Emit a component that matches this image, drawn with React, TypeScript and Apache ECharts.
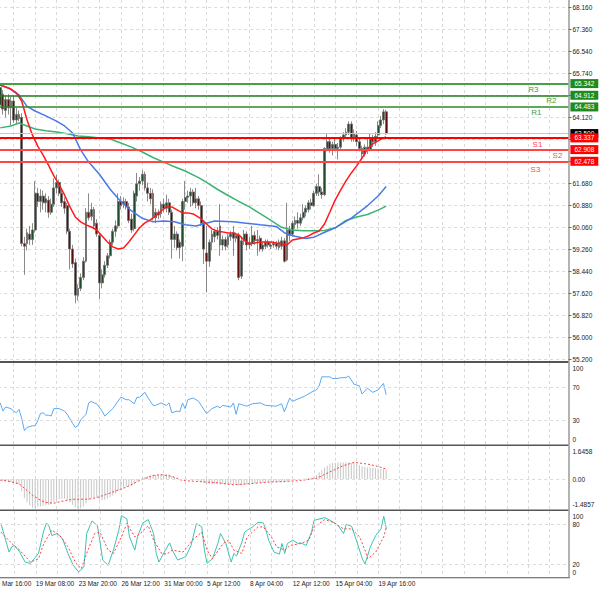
import React, { useEffect, useRef } from 'react';
import * as echarts from 'echarts';

// ---------- data ----------
const FIRST_BAR = 3;
const SLOT_COUNT = 216;

const timeTickIndex = [0, 16, 32, 48, 64, 80, 96, 112, 128, 144];
const timeTickText = ['16 Mar 16:00', '19 Mar 08:00', '23 Mar 20:00', '26 Mar 12:00', '31 Mar 00:00', '5 Apr 12:00', '8 Apr 04:00', '12 Apr 12:00', '15 Apr 04:00', '19 Apr 16:00'];

const PRICE_LOW = 55.2;
const PRICE_HIGH = 68.16;
const priceTickText = ['55.200', '56.000', '56.820', '57.620', '58.440', '59.260', '60.060', '60.880', '61.680', '', '', '64.120', '', '65.740', '66.540', '67.360', '68.160'];

// [open, close, low, high] from bar FIRST_BAR
const ohlc: number[][] = [
  [64.55, 65.2, 64.4, 65.35], [64.95, 64.4, 64.2, 65.1], [64.35, 64.75, 64.1, 64.9], [64.75, 64.45, 64.2, 64.95], [64.45, 64.7, 63.8, 64.85],
  [64.7, 64.0, 63.9, 64.9], [64.0, 64.2, 63.85, 64.45], [64.2, 64.05, 63.95, 64.35], [64.1, 59.45, 59.35, 64.25], [59.45, 59.35, 58.3, 59.7],
  [59.45, 59.85, 59.2, 60.0], [59.8, 59.6, 59.4, 60.1], [59.6, 59.95, 59.4, 60.2], [59.95, 61.3, 59.85, 61.75], [61.3, 61.0, 60.8, 61.5],
  [61.0, 61.2, 60.6, 61.45], [61.2, 60.95, 60.7, 61.4], [60.95, 61.1, 60.6, 61.3], [61.05, 60.6, 60.4, 61.2], [60.6, 60.9, 60.5, 61.1],
  [60.9, 61.5, 60.8, 61.85], [61.5, 61.7, 61.3, 61.98], [61.7, 61.3, 61.2, 61.8], [61.3, 60.95, 60.8, 61.45], [61.0, 60.75, 60.55, 61.15],
  [60.85, 59.9, 59.8, 60.95], [59.9, 59.25, 58.5, 60.0], [59.25, 58.7, 58.55, 59.4], [58.75, 57.55, 57.25, 58.9], [57.55, 57.8, 57.35, 57.95],
  [57.8, 58.2, 57.7, 58.35], [58.2, 58.8, 58.1, 58.95], [58.8, 60.6, 58.75, 60.75], [60.6, 60.4, 60.3, 61.3], [60.45, 60.7, 60.3, 60.95],
  [60.7, 60.1, 60.0, 60.8], [60.2, 59.8, 59.7, 60.35], [59.75, 58.0, 57.4, 59.85], [58.0, 58.3, 57.8, 58.5], [58.3, 58.65, 58.2, 58.8],
  [58.65, 59.0, 58.55, 59.1], [59.0, 59.5, 58.9, 59.6], [59.5, 59.9, 59.4, 60.0], [59.9, 60.1, 59.7, 60.3], [60.1, 61.0, 60.0, 61.3],
  [61.0, 60.85, 60.7, 61.2], [60.9, 61.0, 60.75, 61.15], [61.0, 60.8, 60.7, 61.1], [60.8, 60.3, 60.2, 60.95], [60.35, 59.95, 59.85, 60.55],
  [60.0, 61.3, 59.9, 61.4], [61.2, 61.65, 61.0, 62.05], [61.65, 61.75, 61.4, 61.9], [61.75, 62.0, 61.6, 62.15], [62.0, 61.5, 61.4, 62.1],
  [61.5, 61.3, 61.0, 61.7], [61.3, 61.1, 60.9, 61.5], [61.3, 60.45, 60.3, 61.45], [60.4, 60.6, 60.2, 60.75], [60.6, 60.5, 60.35, 60.7],
  [60.55, 60.9, 60.4, 61.0], [60.9, 60.75, 60.6, 61.1], [60.75, 60.95, 60.6, 61.25], [60.95, 60.6, 60.5, 61.1], [60.6, 59.6, 58.9, 60.7],
  [59.6, 59.8, 59.3, 60.1], [59.8, 59.3, 59.2, 59.9], [59.5, 59.3, 58.9, 59.6], [59.35, 61.0, 58.8, 61.1], [61.0, 61.15, 60.7, 61.75],
  [61.15, 61.2, 60.95, 61.4], [61.2, 61.35, 60.8, 61.5], [61.35, 60.95, 60.85, 61.45], [60.95, 61.1, 60.75, 61.5], [61.1, 60.85, 60.7, 61.2],
  [60.85, 60.2, 60.1, 61.0], [60.2, 59.25, 58.7, 60.3], [59.1, 58.8, 57.65, 60.1], [58.8, 59.5, 58.6, 59.6], [59.5, 59.8, 59.2, 59.95],
  [59.7, 59.9, 59.5, 60.0], [59.9, 59.75, 59.6, 60.05], [60.1, 59.4, 59.0, 60.9], [59.4, 59.6, 59.2, 59.75], [59.6, 59.35, 59.2, 59.7],
  [59.4, 59.7, 59.3, 59.8], [59.7, 59.8, 59.55, 59.9], [59.85, 59.65, 59.0, 60.1], [59.65, 59.75, 59.5, 59.85], [59.75, 58.2, 58.1, 59.85],
  [58.25, 59.55, 58.15, 59.7], [59.55, 59.8, 59.4, 59.95], [59.8, 59.4, 59.2, 59.9], [59.4, 59.5, 59.25, 59.7], [59.45, 59.75, 59.35, 60.1],
  [59.75, 59.55, 59.4, 59.9], [59.55, 59.6, 59.0, 59.95], [59.65, 59.25, 59.15, 59.75], [59.25, 59.4, 59.15, 59.5], [59.35, 59.5, 59.25, 59.6],
  [59.5, 59.4, 59.3, 59.6], [59.35, 59.4, 59.25, 59.5], [59.4, 59.45, 59.3, 59.55], [59.45, 59.35, 59.25, 59.55], [59.5, 59.3, 59.2, 59.6],
  [59.35, 59.55, 59.25, 59.7], [59.55, 58.8, 58.75, 59.65], [58.85, 59.95, 58.8, 60.95], [59.95, 59.75, 59.55, 60.1], [59.8, 60.2, 59.7, 60.3],
  [60.15, 60.3, 60.0, 60.45], [60.3, 60.2, 60.0, 60.6], [60.2, 60.4, 60.1, 60.55], [60.4, 60.6, 60.3, 60.9], [60.6, 60.75, 60.45, 60.85],
  [60.7, 60.95, 60.6, 61.05], [60.95, 60.85, 60.7, 61.1], [60.85, 61.3, 60.8, 61.4], [61.3, 61.55, 61.2, 61.65], [61.55, 61.35, 61.2, 62.0],
  [61.35, 61.25, 61.1, 61.5], [61.25, 62.95, 61.2, 63.0], [62.95, 63.2, 62.85, 63.5], [63.2, 62.95, 62.8, 63.3], [62.95, 63.1, 62.7, 63.2],
  [63.1, 62.95, 62.85, 63.35], [62.95, 63.0, 62.55, 63.15], [63.0, 63.3, 62.9, 63.4], [63.3, 63.45, 63.2, 63.55], [63.45, 63.55, 63.35, 63.7],
  [63.55, 63.85, 63.45, 63.95], [63.85, 63.3, 63.2, 63.95], [63.35, 63.5, 63.2, 63.65], [63.45, 63.2, 63.05, 63.6], [63.2, 62.95, 62.85, 63.3],
  [62.95, 62.75, 62.6, 63.05], [62.75, 63.0, 62.65, 63.1], [63.0, 62.9, 62.75, 63.3], [62.9, 63.3, 62.85, 63.5], [63.3, 63.2, 63.0, 63.45],
  [63.2, 63.4, 63.05, 63.55], [63.45, 63.8, 63.35, 63.95], [63.8, 64.0, 63.7, 64.15], [64.0, 64.3, 63.85, 64.4], [64.3, 63.5, 63.45, 64.38],
];

// moving averages: [bar index, price]
const maFast: number[][] = [
  [3, 65.29], [7, 65.14], [9, 65.0], [11, 64.7], [13, 64.0], [15, 63.45], [17, 63.04], [19, 62.71], [21, 62.34], [23, 61.94],
  [25, 61.61], [27, 61.24], [29, 60.8], [31, 60.43], [33, 60.25], [35, 60.14], [37, 60.06], [39, 59.95], [41, 59.73], [43, 59.51],
  [45, 59.33], [47, 59.25], [49, 59.29], [51, 59.51], [53, 59.77], [55, 60.03], [57, 60.21], [59, 60.32], [61, 60.47], [63, 60.65],
  [65, 60.8], [67, 60.8], [69, 60.69], [71, 60.58], [73, 60.58], [75, 60.54], [78, 60.36], [80, 60.17], [82, 59.99], [84, 59.91],
  [86, 59.88], [88, 59.84], [90, 59.84], [92, 59.77], [94, 59.58], [96, 59.44], [98, 59.47], [100, 59.51], [102, 59.51], [104, 59.51],
  [106, 59.47], [108, 59.44], [110, 59.4], [112, 59.58], [114, 59.62], [116, 59.66], [118, 59.73], [120, 59.84], [122, 59.91], [124, 60.17],
  [126, 60.61], [128, 61.06], [130, 61.42], [132, 61.76], [134, 62.05], [136, 62.31], [138, 62.6], [140, 62.93], [142, 63.12], [144, 63.23],
  [146, 63.34], [147, 63.38],
];
const maMid: number[][] = [
  [3, 65.29], [6, 65.18], [10, 64.92], [13, 64.5], [16, 64.33], [20, 64.15], [24, 63.96], [27, 63.78], [30, 63.52], [33, 62.9],
  [36, 62.45], [40, 62.0], [44, 61.45], [48, 61.0], [52, 60.65], [56, 60.38], [60, 60.25], [64, 60.28], [68, 60.25], [72, 60.14],
  [76, 60.1], [83, 60.28], [90, 60.25], [94, 60.21], [100, 60.14], [106, 60.08], [109, 59.85], [113, 59.72], [117, 59.64], [120, 59.68],
  [123, 59.82], [128, 60.03], [134, 60.39], [140, 60.84], [144, 61.2], [147, 61.55],
];
const maSlow: number[][] = [
  [3, 63.71], [7, 63.78], [10, 63.89], [13, 63.78], [16, 63.67], [20, 63.6], [24, 63.56], [28, 63.49], [32, 63.41], [36, 63.38],
  [40, 63.34], [44, 63.3], [48, 63.15], [52, 63.0], [56, 62.82], [60, 62.62], [64, 62.45], [68, 62.28], [72, 62.12], [77, 61.88],
  [80, 61.7], [84, 61.45], [88, 61.22], [92, 61.0], [96, 60.8], [100, 60.55], [104, 60.3], [108, 60.05], [112, 59.95], [116, 59.92],
  [120, 59.92], [124, 59.93], [128, 60.03], [132, 60.3], [136, 60.43], [140, 60.52], [144, 60.68], [147, 60.83],
];

const levelNames = ['R3', 'R2', 'R1', 'S1', 'S2', 'S3'];
const levelValues = [65.342, 64.912, 64.483, 63.337, 62.908, 62.478];
const lastPrice = 63.5;

const rsi: number[][] = [
  [3, 51], [4, 41], [5, 46], [7, 44], [8, 41], [9, 39], [10, 43], [11, 32], [12, 17], [13, 21], [15, 23], [16, 23], [17, 29], [18, 38],
  [19, 39], [20, 36], [21, 36], [22, 35], [23, 44], [25, 44], [27, 41], [28, 37], [30, 26], [31, 21], [32, 23], [33, 30], [35, 37],
  [36, 51], [37, 53], [38, 51], [39, 50], [41, 41], [42, 35], [45, 44], [48, 58], [50, 55], [51, 55], [53, 50], [54, 58], [55, 58],
  [57, 64], [58, 58], [60, 48], [61, 48], [63, 51], [65, 48], [66, 51], [67, 39], [69, 41], [70, 40], [71, 51], [72, 44], [73, 55],
  [75, 57], [77, 53], [78, 48], [80, 38], [82, 44], [84, 47], [85, 45], [86, 48], [89, 46], [90, 51], [91, 37], [92, 50], [94, 48],
  [95, 47], [97, 50], [100, 51], [102, 48], [106, 47], [108, 50], [109, 40], [111, 57], [112, 53], [115, 57], [117, 60], [119, 64],
  [121, 67], [122, 72], [123, 83], [126, 83], [127, 81], [129, 81], [130, 82], [132, 82], [133, 84], [135, 74], [137, 72], [138, 62],
  [140, 69], [142, 64], [144, 67], [146, 75], [147, 61],
];
const rsiTicks = [0, 30, 70, 100];

// MACD histogram, one value per bar from FIRST_BAR
const macdHist: number[] = [
  -0.1, -0.12, -0.12, -0.15, -0.15, -0.2, -0.25, -0.28, -0.6, -0.95,
  -1.15, -1.3, -1.42, -1.42, -1.38, -1.35, -1.33, -1.3, -1.28, -1.25,
  -1.15, -1.05, -1.0, -0.98, -0.98, -1.05, -1.15, -1.28, -1.4, -1.48,
  -1.45, -1.38, -1.2, -1.05, -0.95, -0.9, -0.92, -1.0, -1.05, -1.02,
  -0.98, -0.9, -0.82, -0.72, -0.58, -0.48, -0.42, -0.38, -0.36, -0.34,
  -0.25, -0.12, -0.02, 0.08, 0.12, 0.15, 0.18, 0.2, 0.2, 0.22,
  0.25, 0.25, 0.25, 0.24, 0.15, 0.1, 0.05, 0.0, 0.02, 0.02,
  0.0, 0.0, -0.02, -0.04, -0.08, -0.12, -0.18, -0.24, -0.26, -0.26,
  -0.25, -0.25, -0.25, -0.26, -0.28, -0.28, -0.27, -0.27, -0.28, -0.33,
  -0.3, -0.28, -0.27, -0.25, -0.22, -0.2, -0.18, -0.18, -0.17, -0.16,
  -0.15, -0.14, -0.14, -0.14, -0.14, -0.13, -0.17, -0.1, -0.08, -0.06,
  -0.04, -0.02, 0.0, 0.02, 0.04, 0.05, 0.07, 0.09, 0.2, 0.34,
  0.45, 0.58, 0.67, 0.74, 0.8, 0.81, 0.82, 0.83, 0.83, 0.83,
  0.82, 0.81, 0.8, 0.75, 0.7, 0.64, 0.6, 0.58, 0.57, 0.55,
  0.54, 0.52, 0.5, 0.5, 0.47,
];
const macdSignal: number[][] = [
  [3, -0.04], [6, -0.1], [10, -0.23], [12, -0.45], [15, -0.8], [18, -1.05], [20, -1.16], [23, -1.2], [25, -1.13], [28, -1.05],
  [30, -1.0], [33, -1.0], [35, -1.0], [37, -0.98], [40, -0.88], [45, -0.64], [50, -0.4], [55, -0.07], [60, 0.18], [63, 0.22],
  [67, 0.14], [71, -0.07], [77, -0.12], [84, -0.18], [90, -0.28], [96, -0.23], [103, -0.15], [109, -0.12], [115, -0.07], [121, 0.04],
  [127, 0.42], [131, 0.67], [135, 0.83], [140, 0.75], [144, 0.63], [147, 0.5],
];
const MACD_MIN = -1.4857;
const MACD_MAX = 1.6458;
const macdTickText = ['-1.4857', '0.00', '1.6458'];

const stochMain: number[][] = [
  [3, 81], [4, 66], [6, 38], [7, 46], [8, 48], [10, 38], [12, 23], [14, 21], [17, 36], [19, 71], [20, 82], [21, 76], [22, 63],
  [24, 66], [26, 58], [28, 36], [30, 18], [32, 8], [34, 16], [35, 66], [37, 85], [39, 78], [40, 53], [41, 26], [43, 18], [45, 41],
  [47, 71], [48, 93], [50, 88], [51, 61], [53, 41], [54, 61], [56, 82], [58, 87], [60, 66], [61, 36], [62, 23], [64, 38], [66, 52],
  [67, 41], [69, 26], [72, 31], [74, 48], [76, 81], [78, 76], [79, 41], [80, 21], [82, 28], [84, 51], [85, 66], [87, 51], [89, 23],
  [90, 36], [91, 32], [93, 53], [94, 68], [95, 71], [97, 76], [99, 83], [101, 82], [102, 71], [103, 56], [105, 38], [107, 35],
  [108, 51], [109, 36], [110, 51], [112, 56], [114, 51], [115, 52], [117, 48], [119, 68], [120, 86], [124, 90], [126, 86], [129, 78],
  [131, 66], [132, 80], [134, 77], [136, 53], [138, 28], [139, 20], [141, 46], [143, 63], [145, 73], [146, 92], [147, 73],
];
const stochSignal: number[][] = [
  [3, 68], [7, 51], [10, 41], [14, 23], [17, 28], [19, 51], [22, 71], [25, 63], [28, 46], [31, 21], [33, 13], [35, 36], [38, 66],
  [40, 68], [43, 41], [45, 36], [48, 61], [50, 81], [53, 61], [55, 66], [58, 78], [60, 56], [63, 36], [65, 35], [67, 41], [71, 38],
  [75, 58], [78, 68], [80, 41], [82, 28], [86, 51], [88, 56], [90, 41], [93, 36], [95, 61], [99, 76], [101, 76], [104, 61], [106, 46],
  [109, 41], [111, 48], [115, 51], [118, 56], [120, 76], [124, 87], [127, 83], [131, 73], [134, 73], [137, 61], [139, 41], [140, 28],
  [143, 38], [146, 61], [147, 76],
];
const stochTicks = [0, 20, 80, 100];

// ---------- styles / layout ----------
const FONT = 'Liberation Sans';
const levelStyles = [
  { line: '#46a046', width: 2, box: '#1f8a1f', text: '#3c9c3c', dist: [30, 2] },
  { line: '#1f7d1f', width: 1.5, box: '#1f8a1f', text: '#3c9c3c', dist: [12, 1.5] },
  { line: '#2b8a2b', width: 1.5, box: '#1f8a1f', text: '#3c9c3c', dist: [27, 2] },
  { line: '#ff0000', width: 2, box: '#ff0000', text: '#ff4a4a', dist: [26, 3] },
  { line: '#ff4646', width: 2, box: '#ff0000', text: '#ff4a4a', dist: [6, 2] },
  { line: '#ff4646', width: 2, box: '#ff0000', text: '#ff4a4a', dist: [28, 4] },
];
const GRIDLINE = { color: '#dadada', width: 1, type: [3, 3] as number[] };
const gridX = { left: 2.2, right: 31.6 };

export default function App() {
  const ref = useRef<HTMLDivElement>(null);

  useEffect(() => {
    if (!ref.current) return;
    document.body.style.overflow = 'hidden';
    const chart = echarts.init(ref.current, undefined, { renderer: 'svg' });

    const categories = Array.from({ length: SLOT_COUNT }, (_, i) => String(i));
    const pxUnit = (PRICE_HIGH - PRICE_LOW) / 352;
    const candleData = ohlc.map((d, k) => [k + FIRST_BAR, d[0], d[1], d[2], d[3]]);
    const histData = macdHist.map((v, k) => [k + FIRST_BAR, v]);

    const mkX = (gi: number, labels: boolean, split: boolean) => ({
      type: 'category',
      gridIndex: gi,
      data: categories,
      boundaryGap: false,
      show: true,
      axisLine: { show: false },
      axisTick: { show: false },
      splitLine: { show: split, interval: 7, lineStyle: GRIDLINE },
      axisLabel: labels
        ? {
            show: true,
            interval: (idx: number) => timeTickIndex.includes(idx),
            formatter: (v: string) => {
              const k = timeTickIndex.indexOf(Number(v));
              return k >= 0 ? timeTickText[k] : '';
            },
            align: 'left',
            margin: 3,
            fontSize: 6.5,
            color: '#222',
            fontFamily: FONT,
          }
        : { show: false },
    });

    const richEdge = {
      t: { padding: [10, 0, 0, 0], fontSize: 6.5, color: '#222', fontFamily: FONT },
      b: { padding: [0, 0, 10, 0], fontSize: 6.5, color: '#222', fontFamily: FONT },
    };
    const subAxisLabel = (formatter: (v: number) => string) => ({
      margin: 4,
      fontSize: 6.5,
      color: '#222',
      fontFamily: FONT,
      formatter,
      rich: richEdge,
    });
    const edgeFmt = (ticks: number[], texts: string[]) => (v: number) => {
      const k = ticks.findIndex((t) => Math.abs(t - v) < 1e-6);
      if (k < 0) return '';
      if (k === 0) return `{b|${texts[k]}}`;
      if (k === ticks.length - 1) return `{t|${texts[k]}}`;
      return texts[k];
    };

    const gl = (vals: number[]) => ({
      silent: true,
      symbol: ['none', 'none'],
      label: { show: false },
      lineStyle: GRIDLINE,
      data: vals.map((v) => ({ yAxis: v })),
    });

    const levelMarks: any[] = [
      {
        yAxis: lastPrice,
        lineStyle: { color: '#c8c8c8', width: 1, type: 'solid' },
        label: {
          show: true, position: 'end', distance: 2, formatter: lastPrice.toFixed(3),
          backgroundColor: '#000', color: '#fff', fontSize: 6.5, fontFamily: FONT, padding: [1, 4, 1, 4], lineHeight: 7,
        },
      },
    ];
    const order = [0, 1, 2, 5, 4, 3];
    order.forEach((k) => {
      const st = levelStyles[k];
      levelMarks.push({
        yAxis: levelValues[k],
        lineStyle: { color: 'rgba(0,0,0,0)', width: 0 },
        label: {
          show: true, position: 'insideEndBottom', distance: st.dist, formatter: levelNames[k],
          color: st.text, fontSize: 8, fontFamily: FONT,
        },
      });
      levelMarks.push({
        yAxis: levelValues[k],
        lineStyle: { color: st.line, width: st.width, type: 'solid' },
        label: {
          show: true, position: 'end', distance: 2, formatter: levelValues[k].toFixed(3),
          backgroundColor: st.box, color: '#fff', fontSize: 6.5, fontFamily: FONT, padding: [1, 4, 1, 4], lineHeight: 7,
        },
      });
    });

    const option: any = {
      animation: false,
      backgroundColor: '#ffffff',
      textStyle: { fontFamily: FONT },
      grid: [
        { ...gridX, top: 0, height: 361 },
        { ...gridX, top: 7, height: 352 },
        { ...gridX, top: 363, height: 81.5 },
        { ...gridX, top: 446, height: 63 },
        { ...gridX, top: 511, height: 66.3 },
      ],
      xAxis: [
        mkX(0, false, true),
        { ...mkX(1, false, false), show: false },
        mkX(2, false, true),
        mkX(3, false, true),
        mkX(4, true, true),
      ],
      yAxis: [
        { type: 'value', gridIndex: 0, min: PRICE_LOW - 2 * pxUnit, max: PRICE_HIGH + 7 * pxUnit, show: false },
        {
          type: 'value', gridIndex: 1, min: 0, max: 16, interval: 1, position: 'right',
          axisLine: { show: false },
          axisTick: { show: true, length: 3, lineStyle: { color: '#666' } },
          axisLabel: {
            margin: 4, fontSize: 6.5, color: '#222', fontFamily: FONT,
            formatter: (v: number) => priceTickText[Math.round(v)] ?? '',
          },
          splitLine: { show: true, lineStyle: GRIDLINE },
        },
        {
          type: 'value', gridIndex: 2, min: 0, max: 100, interval: 10, position: 'right',
          axisLine: { show: false }, axisTick: { show: false }, splitLine: { show: false },
          axisLabel: subAxisLabel(edgeFmt(rsiTicks, rsiTicks.map(String))),
        },
        {
          type: 'value', gridIndex: 3, min: MACD_MIN, max: MACD_MAX, interval: -MACD_MIN, position: 'right',
          axisLine: { show: false }, axisTick: { show: false }, splitLine: { show: false },
          axisLabel: subAxisLabel(edgeFmt([MACD_MIN, 0, MACD_MAX], macdTickText)),
        },
        {
          type: 'value', gridIndex: 4, min: 0, max: 100, interval: 10, position: 'right',
          axisLine: { show: false }, axisTick: { show: false }, splitLine: { show: false },
          axisLabel: subAxisLabel(edgeFmt(stochTicks, stochTicks.map(String))),
        },
      ],
      series: [
        {
          type: 'candlestick', name: 'price', xAxisIndex: 0, yAxisIndex: 0,
          data: candleData, encode: { x: 0, y: [1, 2, 3, 4] },
          barWidth: 2.4,
          itemStyle: { color: '#1f4d2c', color0: '#5e0b0b', borderColor: '#6c6c6c', borderColor0: '#6c6c6c', borderWidth: 0.8 },
          markLine: { silent: true, symbol: ['none', 'none'], data: levelMarks },
        },
        { type: 'line', name: 'ma slow', xAxisIndex: 0, yAxisIndex: 0, data: maSlow, symbol: 'none', lineStyle: { color: '#3cb371', width: 1.5 } },
        { type: 'line', name: 'ma mid', xAxisIndex: 0, yAxisIndex: 0, data: maMid, symbol: 'none', lineStyle: { color: '#4a78e8', width: 1.5 } },
        { type: 'line', name: 'ma fast', xAxisIndex: 0, yAxisIndex: 0, data: maFast, symbol: 'none', lineStyle: { color: '#ff1a1a', width: 1.5 } },
        {
          type: 'line', name: 'rsi', xAxisIndex: 2, yAxisIndex: 2, data: rsi, symbol: 'none',
          lineStyle: { color: '#5aaaf2', width: 1 }, markLine: gl([30, 70]),
        },
        {
          type: 'bar', name: 'macd', xAxisIndex: 3, yAxisIndex: 3, data: histData, barWidth: 1,
          itemStyle: { color: '#c6c6c6' }, markLine: gl([0]),
        },
        {
          type: 'line', name: 'signal', xAxisIndex: 3, yAxisIndex: 3, data: macdSignal, symbol: 'none',
          lineStyle: { color: '#ff4040', width: 1, type: [2, 2] },
        },
        {
          type: 'line', name: 'stoch', xAxisIndex: 4, yAxisIndex: 4, data: stochMain, symbol: 'none',
          lineStyle: { color: '#3ec2b2', width: 1 }, markLine: gl([20, 80]),
        },
        {
          type: 'line', name: 'stoch signal', xAxisIndex: 4, yAxisIndex: 4, data: stochSignal, symbol: 'none',
          lineStyle: { color: '#ff4040', width: 1, type: [2, 2] },
        },
      ],
      graphic: [
        { type: 'rect', z: 100, silent: true, shape: { x: 0, y: 361, width: 578.4, height: 2 }, style: { fill: '#555' } },
        { type: 'rect', z: 100, silent: true, shape: { x: 0, y: 444.5, width: 578.4, height: 1.6 }, style: { fill: '#555' } },
        { type: 'rect', z: 100, silent: true, shape: { x: 0, y: 509.4, width: 578.4, height: 1.6 }, style: { fill: '#555' } },
        { type: 'rect', z: 100, silent: true, shape: { x: 0, y: 577.2, width: 579.6, height: 1 }, style: { fill: '#555' } },
        { type: 'rect', z: 100, silent: true, shape: { x: 578.4, y: 0, width: 1.2, height: 578 }, style: { fill: '#808080' } },
      ],
    };

    chart.setOption(option);
    return () => chart.dispose();
  }, []);

  return (
    <div
      ref={ref}
      style={{ position: 'absolute', left: -10, top: 0, width: 610, height: 591, background: '#fff' }}
    />
  );
}
